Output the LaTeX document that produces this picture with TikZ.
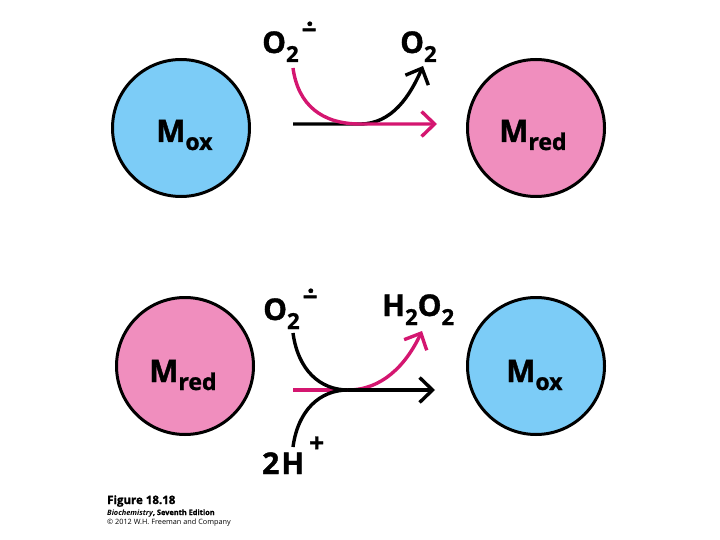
\documentclass[tikz,border=0pt]{standalone}
\usepackage{fontspec}
\setmainfont{Open Sans}[BoldFeatures={FakeBold=1.2}]
\usetikzlibrary{arrows.meta}
\definecolor{mblue}{RGB}{124,204,247}
\definecolor{mpink}{RGB}{240,142,190}
\definecolor{mmag}{RGB}{212,22,112}
\newcommand{\lsub}[1]{\raisebox{-9pt}{\fontsize{22}{22}\selectfont #1}}
\newcommand{\msub}[1]{\raisebox{-8pt}{\fontsize{23}{23}\selectfont #1}}
\newcommand{\radsup}{{\fontsize{26}{26}\selectfont\hspace{3pt}\rlap{\raisebox{20pt}{\hspace{4.5pt}·}}\raisebox{14pt}{−}}}
\begin{document}
\begin{tikzpicture}[x=1pt,y=-1pt,
  molec/.style={circle,draw=black,line width=3pt,minimum size=137pt,inner sep=0pt},
  mtext/.style={anchor=base west,inner sep=0pt,font=\bfseries\fontsize{31}{31}\selectfont},
  lab/.style={anchor=base west,inner sep=0pt,font=\bfseries\fontsize{30}{30}\selectfont},
  rx/.style={line width=3.4pt,-{Straight Barb[length=13pt,width=25pt,line width=3.4pt]}},
  rxl/.style={line width=3.4pt}]
\useasboundingbox (0,0) rectangle (720,540);
% circles
\node[molec,fill=mblue] (mox1) at (181,128) {};
\node[molec,fill=mpink] (mred1) at (536,128) {};
\node[molec,fill=mpink] (mred2) at (185,366) {};
\node[molec,fill=mblue] (mox2) at (536,366) {};
\node[mtext] (tmox1) at (156,142) {M\msub{ox}};
\node[mtext] (tmred1) at (499,142) {M\msub{red}};
\node[mtext] (tmred2) at (149,382) {M\msub{red}};
\node[mtext] (tmox2) at (506,382) {M\msub{ox}};
% labels
\node[lab] (sup1) at (262,53) {O\lsub{2}\radsup};
\node[lab] (o2) at (400,53) {O\lsub{2}};
\node[lab] (sup2) at (263,320) {O\lsub{2}\radsup};
\node[lab] (h2o2) at (382,316) {H\lsub{2}O\lsub{2}};
\node[lab] (hplus) at (262,474) {2\hspace{2pt}H{\fontsize{26}{26}\selectfont\hspace{5pt}\raisebox{22pt}{+}}};
% arrow anchor points
\coordinate (a1) at (293,124);
\coordinate (m1) at (360,124);
\coordinate (t1) at (423,66);
\coordinate (s1) at (293,68);
\coordinate (e1) at (437,124);
\coordinate (s2) at (293,333);
\coordinate (s3) at (293,447);
\coordinate (a2) at (293,390);
\coordinate (m2) at (348,390);
\coordinate (t2) at (422,331);
\coordinate (e2) at (435,390);
% top reaction
\draw[rx,black] (a1) -- (m1) .. controls (392,124) and (410,96) .. (t1);
\draw[rx,mmag] (s1) .. controls (298,105) and (322,124) .. (m1) -- (e1);
% bottom reaction
\draw[rxl,mmag] (a2) -- (m2);
\draw[rx,mmag] (m2) .. controls (382,390) and (406,365) .. (t2);
\draw[rxl,black] (s2) .. controls (298,370) and (320,390) .. (m2);
\draw[rxl,black] (s3) .. controls (298,410) and (320,390) .. (m2);
\draw[rx,black] (m2) -- (e2);
% caption
\node[anchor=base west,inner sep=0pt,font=\bfseries\fontsize{11.5}{12}\selectfont] (fig) at (107,504) {Figure 18.18};
\node[anchor=base west,inner sep=0pt,font=\bfseries\fontsize{7.4}{8}\selectfont] (book) at (107,515) {\textit{Biochemistry}, Seventh Edition};
\node[anchor=base west,inner sep=0pt,font=\fontsize{7.3}{8}\selectfont] (copy) at (107,524) {© 2012 W.H. Freeman and Company};
\end{tikzpicture}
\end{document}
